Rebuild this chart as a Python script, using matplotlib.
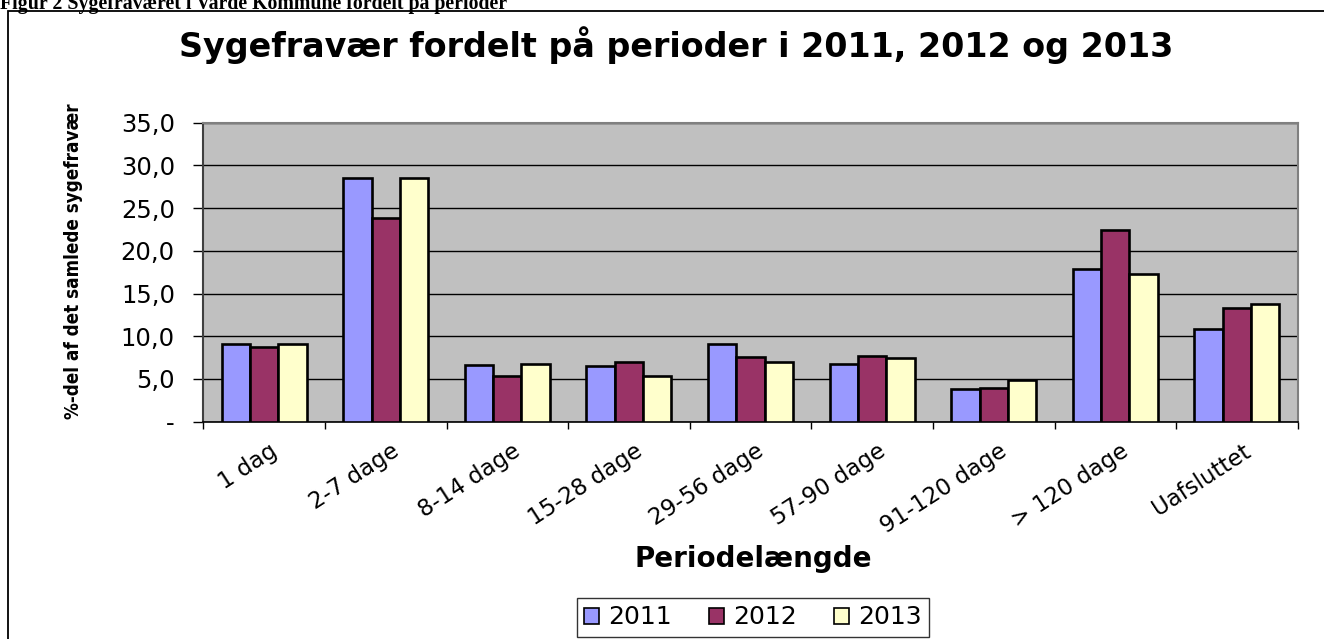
import matplotlib
matplotlib.use("Agg")
import matplotlib.pyplot as plt
import matplotlib.transforms as mtransforms
from matplotlib.patches import Rectangle, Patch
import numpy as np

# ---- data ----
categories = ["1 dag", "2-7 dage", "8-14 dage", "15-28 dage", "29-56 dage",
              "57-90 dage", "91-120 dage", "> 120 dage", "Uafsluttet"]
years = ["2011", "2012", "2013"]
v2011 = [9.1, 28.5, 6.6, 6.5, 9.1, 6.8, 3.8, 17.9, 10.9]
v2012 = [8.8, 23.9, 5.3, 7.0, 7.6, 7.7, 4.0, 22.4, 13.3]
v2013 = [9.1, 28.5, 6.7, 5.4, 7.0, 7.4, 4.9, 17.3, 13.8]
yticks = [0, 5, 10, 15, 20, 25, 30, 35]
ytick_labels = ["-", "5,0", "10,0", "15,0", "20,0", "25,0", "30,0", "35,0"]
title = "Sygefravær fordelt på perioder i 2011, 2012 og 2013"
caption = "Figur 2 Sygefraværet i Varde Kommune fordelt på perioder"
xlabel = "Periodelængde"
ylabel = "%-del af det samlede sygefravær"

colors = ["#9999FF", "#993366", "#FFFFCC"]
series = [v2011, v2012, v2013]

W, H = 1324, 639
fig = plt.figure(figsize=(W / 100, H / 100), dpi=100)
plt.rcParams["font.family"] = ["DejaVu Sans"]

def fx(px):
    return px / W

def fy(py):
    return 1 - py / H

# outer border
fig.patches.append(Rectangle((fx(8), -0.05), 1.2, fy(10.5) + 0.05, transform=fig.transFigure,
                             fill=False, edgecolor="black", linewidth=1.3))

# caption (cut off at top, as in the source)
fig.text(0.0, fy(9), caption, family=["Liberation Serif", "DejaVu Serif"], weight="bold",
         fontsize=14.3, ha="left", va="baseline")

ax = fig.add_axes([fx(203.3), fy(421.7), fx(1297.7) - fx(203.3), fy(122.7) - fy(421.7)])
ax.set_facecolor("#C0C0C0")

x = np.arange(len(categories))
bw = 0.233
for i, (vals, c, yr) in enumerate(zip(series, colors, years)):
    ax.bar(x + (i - 1) * bw, vals, bw, color=c, edgecolor="black", linewidth=1.9,
           label=yr, zorder=3)

ax.set_xlim(-0.5, len(categories) - 0.5)
ax.set_ylim(0, 35)
ax.set_yticks(yticks)
ax.set_yticklabels(ytick_labels, fontsize=17.5, color="black")
ax.yaxis.grid(True, color="black", linewidth=1.0, zorder=1)
ax.set_axisbelow(True)
ax.tick_params(axis="y", direction="out", length=7.5, width=1.0, pad=13, color="black")

# x ticks: boundaries as minor ticks, labels at centers
ax.set_xticks(np.arange(-0.5, len(categories), 1.0), minor=True)
ax.set_xticks(x)
ax.tick_params(axis="x", which="minor", direction="out", length=5, width=1.0, color="black")
ax.tick_params(axis="x", which="major", length=0, pad=13)
ax.set_xticklabels(categories, rotation=33, ha="right", va="top",
                   rotation_mode="anchor", fontsize=16.5)
offset = mtransforms.ScaledTranslation(5 / 100, 0, fig.dpi_scale_trans)
for lab in ax.get_xticklabels():
    lab.set_transform(lab.get_transform() + offset)

for side in ["top", "right"]:
    ax.spines[side].set_color("#808080")
    ax.spines[side].set_linewidth(1.5)
ax.spines["left"].set_color("#404040")
ax.spines["left"].set_linewidth(1.5)
ax.spines["bottom"].set_color("black")
ax.spines["bottom"].set_linewidth(1.2)

# titles
fig.text(fx(676), fy(57), title, fontsize=24, weight="bold", ha="center", va="baseline")
fig.text(fx(753), fy(567), xlabel, fontsize=20, weight="bold", ha="center", va="baseline")
fig.text(fx(74), fy(261), ylabel, rotation=90, fontsize=13.5, weight="bold",
         family="DejaVu Sans", fontstretch="condensed", ha="center", va="center")

handles = [Patch(facecolor=c, edgecolor="black", linewidth=1.2) for c in colors]
leg = fig.legend(handles, years, loc="center", bbox_to_anchor=(fx(753), fy(617.5)),
                 ncol=3, frameon=True, fancybox=False, fontsize=18,
                 handlelength=0.6, handleheight=0.6, handletextpad=0.35,
                 columnspacing=1.5, borderpad=0.3, borderaxespad=0)
leg.get_frame().set_edgecolor("black")
leg.get_frame().set_linewidth(1.0)

fig.savefig("out.png", dpi=100)
